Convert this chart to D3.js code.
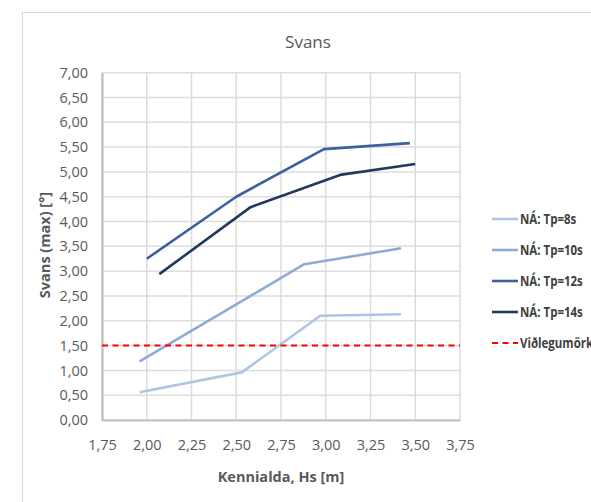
<!DOCTYPE html>
<html><head><meta charset="utf-8">
<script src="https://cdn.jsdelivr.net/npm/d3@7"></script>
<style>body{margin:0;background:#fff;} svg{display:block;}</style>
</head><body>
<svg id="c" width="591" height="502"></svg>
<script>
const seriesNames = ["NÁ: Tp=8s", "NÁ: Tp=10s", "NÁ: Tp=12s", "NÁ: Tp=14s"];
const hs8  = [1.96, 2.53, 2.97, 3.42];
const v8   = [0.56, 0.96, 2.10, 2.13];
const hs10 = [1.96, 2.88, 3.42];
const v10  = [1.18, 3.14, 3.46];
const hs12 = [2.00, 2.50, 2.99, 3.47];
const v12  = [3.25, 4.50, 5.46, 5.58];
const hs14 = [2.07, 2.58, 3.08, 3.50];
const v14  = [2.94, 4.29, 4.94, 5.16];
const limitName = "Viðlegumörk";
const limitValue = 1.5;
const xTicks = [1.75, 2.00, 2.25, 2.50, 2.75, 3.00, 3.25, 3.50, 3.75];
const yTicks = [0, 0.5, 1, 1.5, 2, 2.5, 3, 3.5, 4, 4.5, 5, 5.5, 6, 6.5, 7];
const colors = ["#adc4e3", "#8dabd6", "#3b629c", "#22395c"];

const font = "'Open Sans', sans-serif";
const svg = d3.select("#c");
const L = 102, R = 460, T = 72.7, B = 420;
const x = d3.scaleLinear().domain([1.75, 3.75]).range([L, R]);
const y = d3.scaleLinear().domain([0, 7]).range([B, T]);
const fmt = v => d3.format(".2f")(v).replace(".", ",");

// outer chart border
svg.append("rect").attr("x", 22.5).attr("y", 12.5).attr("width", 600).attr("height", 520)
  .attr("fill", "#fff").attr("stroke", "#d9d9d9").attr("stroke-width", 1);

// gridlines
svg.append("g").selectAll("line").data(yTicks).join("line")
  .attr("x1", L).attr("x2", R).attr("y1", d => y(d)).attr("y2", d => y(d))
  .attr("stroke", "#dcdcdc").attr("stroke-width", 1.5);
svg.append("g").selectAll("line").data(xTicks).join("line")
  .attr("y1", T).attr("y2", B).attr("x1", d => x(d)).attr("x2", d => x(d))
  .attr("stroke", "#dcdcdc").attr("stroke-width", 1.5);

// axes
const xAxis = svg.append("g").attr("transform", `translate(0,${B})`)
  .call(d3.axisBottom(x).tickValues(xTicks).tickFormat(fmt).tickSize(0).tickPadding(20));
const yAxis = svg.append("g").attr("transform", `translate(${L},0)`)
  .call(d3.axisLeft(y).tickValues(yTicks).tickFormat(fmt).tickSize(0).tickPadding(14));
[xAxis, yAxis].forEach(a => {
  a.select(".domain").attr("stroke", "#c0c0c0").attr("stroke-width", 2.2);
  a.selectAll("text").attr("font-family", font).attr("font-size", 14.5).attr("fill", "#595959");
});

// data lines
const line = d3.line().x(d => x(d[0])).y(d => y(d[1]));
const data = [
  d3.zip(hs8, v8), d3.zip(hs10, v10), d3.zip(hs12, v12), d3.zip(hs14, v14)
];
data.forEach((d, i) => {
  svg.append("path").datum(d).attr("d", line).attr("fill", "none")
    .attr("stroke", colors[i]).attr("stroke-width", 2.6).attr("stroke-linejoin", "round");
});

// limit line
svg.append("line").attr("x1", x(1.75)).attr("x2", x(3.75))
  .attr("y1", y(limitValue)).attr("y2", y(limitValue))
  .attr("stroke", "#ff0000").attr("stroke-width", 2).attr("stroke-dasharray", "6,4.5");

// title
svg.append("text").attr("x", 308).attr("y", 48).attr("text-anchor", "middle")
  .attr("font-family", font).attr("font-size", 17).attr("fill", "#595959").text("Svans");

// axis titles
svg.append("text").attr("x", 281).attr("y", 482).attr("text-anchor", "middle")
  .attr("font-family", font).attr("font-size", 14.5).attr("font-weight", "bold").attr("fill", "#595959")
  .text("Kennialda, Hs [m]");
svg.append("text").attr("transform", "translate(50,245) rotate(-90)").attr("text-anchor", "middle")
  .attr("font-family", font).attr("font-size", 14.5).attr("font-weight", "bold").attr("fill", "#595959")
  .text("Svans (max) [°]");

// legend
const legY = [219, 250, 281, 312, 343];
const leg = svg.append("g");
const legText = (yy, t) => leg.append("text")
  .attr("transform", `translate(520,${yy}) scale(0.82,1)`).attr("dy", "0.35em")
  .attr("font-family", font).attr("font-size", 14).attr("font-weight", "bold").attr("fill", "#404040").text(t);
seriesNames.forEach((n, i) => {
  leg.append("line").attr("x1", 492).attr("x2", 518).attr("y1", legY[i]).attr("y2", legY[i])
    .attr("stroke", colors[i]).attr("stroke-width", 2.6);
  legText(legY[i], n);
});
leg.append("line").attr("x1", 492).attr("x2", 518).attr("y1", legY[4]).attr("y2", legY[4])
  .attr("stroke", "#ff0000").attr("stroke-width", 2).attr("stroke-dasharray", "6,4.5");
legText(legY[4], limitName);
</script>
</body></html>
